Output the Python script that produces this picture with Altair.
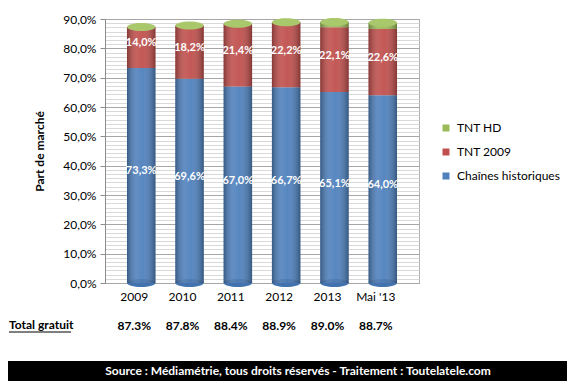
import altair as alt
import pandas as pd

years = ["2009", "2010", "2011", "2012", "2013", "Mai '13"]
historiques = [73.3, 69.6, 67.0, 66.7, 65.1, 64.0]
tnt2009 = [14.0, 18.2, 21.4, 22.2, 22.1, 22.6]
tnthd = [0.0, 0.0, 0.0, 0.0, 1.8, 2.1]
total_gratuit = [87.3, 87.8, 88.4, 88.9, 89.0, 88.7]
series_names = ["Chaînes historiques", "TNT 2009", "TNT HD"]
legend_order = ["TNT HD", "TNT 2009", "Chaînes historiques"]
legend_colors = ["#9bbb59", "#c0504d", "#4f81bd"]
grid_values = [round(i * 10 / 7, 3) for i in range(0, 64)]

rows = []
for i, yr in enumerate(years):
    for k, (name, vals) in enumerate(zip(series_names, [historiques, tnt2009, tnthd])):
        v = vals[i]
        lab = ("%.1f" % v).replace(".", ",") + "%" if (k < 2 and v > 0) else ""
        rows.append({"year": yr, "series": name, "value": v, "ord": k, "lab": lab})
df = pd.DataFrame(rows)

tot = pd.DataFrame({
    "year": years,
    "stack_top": [h + t + d for h, t, d in zip(historiques, tnt2009, tnthd)],
    "zero": [0] * len(years),
    "tot_lab": ["%.1f%%" % v for v in total_gratuit],
})

W, H = 314, 264
xscale = alt.Scale(domain=years, paddingInner=0.41, paddingOuter=0.455)
yscale = alt.Scale(domain=[0, 90], nice=False, zero=True)

ellipse = "M -1 0 A 1 0.28 0 1 0 1 0 A 1 0.28 0 1 0 -1 0 Z"
square = "M -1 -1 L 1 -1 L 1 1 L -1 1 Z"
cap_size = 28.5 * 28.5

major = "abs(datum.value - round(datum.value / 10) * 10) < 0.01"

bars = alt.Chart(df).mark_bar().encode(
    x=alt.X("year:N", sort=years, scale=xscale, title=None,
            axis=alt.Axis(labelOffset=-7, tickSize=0, ticks=False, labelPadding=8,
                          domainColor="#a6a6a6", labelFontSize=12, labelColor="#000000",
                          labelAngle=0, grid=False)),
    y=alt.Y("value:Q", stack="zero", scale=yscale, title="Part de marché",
            axis=alt.Axis(values=grid_values, grid=True,
                          gridColor=alt.condition(major, alt.value("#a6a6a6"), alt.value("#d9d9d9")),
                          tickOpacity=alt.condition(major, alt.value(1), alt.value(0)),
                          labelExpr="(abs(datum.value - round(datum.value / 10) * 10) < 0.01) ? replace(format(datum.value, '.1f'), '.', ',') + '%' : ''",
                          labelFontSize=12, labelColor="#000000", tickSize=5,
                          tickColor="#8c8c8c", domainColor="#8c8c8c", labelPadding=4,
                          labelOverlap=False,
                          titleFontSize=12, titleFontWeight="bold", titleColor="#000000",
                          titleX=-66, titleY=H / 2, titleBaseline="middle", titleAlign="center")),
    color=alt.Color("series:N", scale=alt.Scale(domain=legend_order, range=legend_colors),
                    legend=alt.Legend(title=None, orient="none", legendX=335, legendY=103,
                                      symbolType=square, symbolSize=49, symbolStrokeWidth=0,
                                      labelFontSize=12, labelColor="#000000", rowPadding=12,
                                      labelOffset=5)),
    order=alt.Order("ord:Q"),
)

bottoms = alt.Chart(tot).mark_point(
    shape=ellipse, size=cap_size, filled=True, opacity=1, color="#4373ae", strokeWidth=0
).encode(
    x=alt.X("year:N", scale=xscale, axis=None),
    y=alt.Y("zero:Q", scale=yscale, axis=None),
)

shade = alt.Chart(tot).mark_bar(
    color=alt.LinearGradient(
        gradient="linear", x1=0, x2=1, y1=0, y2=0,
        stops=[
            alt.GradientStop(color="rgba(0,0,0,0.30)", offset=0),
            alt.GradientStop(color="rgba(255,255,255,0.10)", offset=0.35),
            alt.GradientStop(color="rgba(255,255,255,0.05)", offset=0.55),
            alt.GradientStop(color="rgba(0,0,0,0.32)", offset=1),
        ],
    )
).encode(
    x=alt.X("year:N", scale=xscale, axis=None),
    y=alt.Y("stack_top:Q", scale=yscale, axis=None),
)

caps = alt.Chart(tot).mark_point(
    shape=ellipse, size=cap_size, filled=True, opacity=1, color="#a9c86c", strokeWidth=0
).encode(
    x=alt.X("year:N", scale=xscale, axis=None),
    y=alt.Y("stack_top:Q", scale=yscale, axis=None),
)

labels = alt.Chart(df).transform_stack(
    stack="value", groupby=["year"], sort=[alt.SortField("ord")], as_=["y0", "y1"]
).transform_calculate(mid="(datum.y0 + datum.y1) / 2").mark_text(
    color="white", fontWeight="bold", fontSize=11, dy=-4
).encode(
    x=alt.X("year:N", scale=xscale, axis=None),
    y=alt.Y("mid:Q", scale=yscale, axis=None),
    text="lab:N",
)

total_row = alt.Chart(tot).mark_text(
    fontWeight="bold", fontSize=12, color="#000000", dx=-7
).encode(
    x=alt.X("year:N", scale=xscale, axis=None),
    y=alt.value(307),
    text="tot_lab:N",
)

total_title = alt.Chart(pd.DataFrame({"t": ["Total gratuit"]})).mark_text(
    fontWeight="bold", fontSize=12, color="#000000", align="left"
).encode(x=alt.value(-96), y=alt.value(306), text="t:N")

underline = alt.Chart(pd.DataFrame({"t": [1]})).mark_rule(color="#000000", strokeWidth=1).encode(
    x=alt.value(-96), x2=alt.value(-34), y=alt.value(313)
)

band = alt.Chart(pd.DataFrame({"t": [1]})).mark_rect(color="#000000").encode(
    x=alt.value(-97), x2=alt.value(W + 148), y=alt.value(342), y2=alt.value(362)
)

source = alt.Chart(pd.DataFrame({"t": ["Source : Médiamétrie, tous droits réservés - Traitement : Toutelatele.com"]})).mark_text(
    fontWeight="bold", fontSize=12, color="white"
).encode(x=alt.value(193), y=alt.value(352), text="t:N")

chart = alt.layer(
    bars, bottoms, shade, caps, labels, total_row, total_title, underline, band, source
).resolve_axis(x="independent", y="independent").properties(
    width=W, height=H,
    autosize=alt.AutoSizeParams(type="none"),
    padding={"left": 97, "top": 11, "right": 148, "bottom": 98},
).configure(font="Lato").configure_view(stroke="#b0b0b0")

chart.save("out.html", embed_options={"renderer": "svg", "actions": False})
